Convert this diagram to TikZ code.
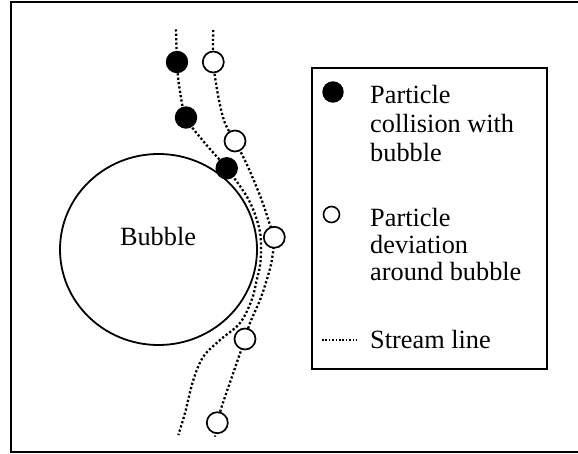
\documentclass[tikz,border=0pt]{standalone}
\usepackage{fontspec}
\setmainfont{Liberation Serif}
\usetikzlibrary{backgrounds,shapes.geometric}
\begin{document}
\begin{tikzpicture}[x=1pt,y=-1pt,
  frame/.style={draw=black,line width=1.8pt},
  stream/.style={line width=2.3pt,dash pattern=on 2.2pt off 2.2pt},
  hit/.style={circle,fill=black,draw=black,line width=1.4pt,minimum size=21pt,inner sep=0pt},
  miss/.style={circle,fill=white,draw=black,line width=1.7pt,minimum size=21pt,inner sep=0pt},
  txt/.style={font=\fontsize{26.3}{29}\selectfont,anchor=base west,inner sep=0pt}]
\useasboundingbox (0,0) rectangle (578,454);
\draw[frame] (11,1.8) rectangle (582,452);
% bubble
\node (bubble) [ellipse,draw=black,line width=1.8pt,minimum width=197pt,minimum height=191pt,inner sep=0pt] at (158.5,249.5) {};
\node[txt,anchor=base] (bl) at (158,245.7) {Bubble};
% particles
\node[hit] (h1) at (177,62) {};
\node[hit] (h2) at (186,117.5) {};
\node[hit] (h3) at (226.7,168.3) {};
\node[miss] (m1) at (213.3,62) {};
\node[miss] (m2) at (235,141) {};
\node[miss] (m3) at (274.3,237.3) {};
\node[miss] (m4) at (245,339) {};
\node[miss] (m5) at (217.3,422.7) {};
\coordinate (a0) at (176,29.3);
\coordinate (aE) at (178.3,435);
\coordinate (b0) at (213.3,30);
\coordinate (bE) at (215,436.7);
\begin{scope}[on background layer]
\draw[stream] plot[smooth,tension=0.55] coordinates {(a0) (h1.center) (179.3,87) (h2.center) (204,142) (h3.center) (248.8,200) (259.9,231.6) (260.5,262) (256.7,280) (251.7,300) (240,323) (220,340) (203.3,356.7) (193.3,380) (185,413) (aE)};
\draw[stream] plot[smooth,tension=0.55] coordinates {(b0) (m1.center) (218.3,96.7) (225,123.3) (m2.center) (248,167) (261.7,200) (270,225) (m3.center) (271.5,262) (266.7,280) (260,300) (250,323) (m4.center) (236.7,363) (221.7,406.7) (m5.center) (bE)};
\end{scope}
% legend
\node (legend) [draw=black,line width=1.8pt,minimum width=235pt,minimum height=301pt,anchor=north west,inner sep=0pt] at (311,67) {};
\node[hit,minimum size=20pt] (lh) at (333,92) {};
\node[miss,minimum size=16pt,line width=1.6pt] (lm) at (331.5,214.5) {};
\coordinate (ls0) at (322,340);
\coordinate (ls1) at (357,340);
\draw[line width=1.6pt,dash pattern=on 1.6pt off 1.8pt] (ls0) -- (ls1);
\node[txt] (t1a) at (370,103.3) {Particle};
\node[txt] (t1b) at (370,132.5) {collision with};
\node[txt] (t1c) at (370,161.5) {bubble};
\node[txt] (t2a) at (370,226.5) {Particle};
\node[txt] (t2b) at (370,253.3) {deviation};
\node[txt] (t2c) at (370,280.2) {around bubble};
\node[txt] (t3) at (370,348) {Stream line};
\end{tikzpicture}
\end{document}
